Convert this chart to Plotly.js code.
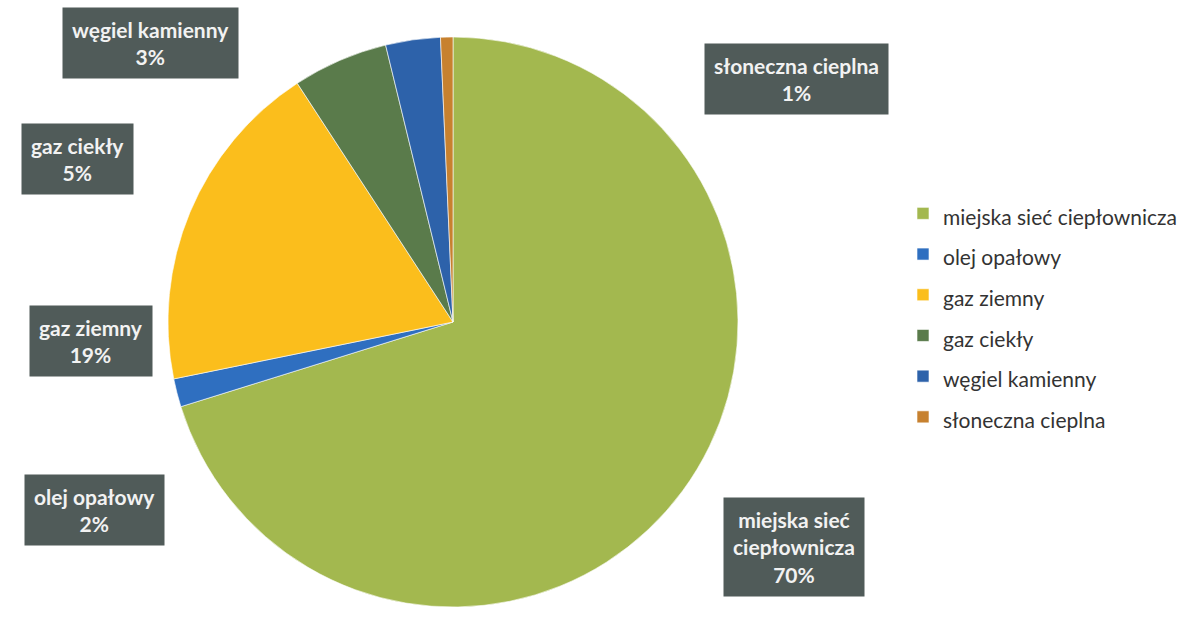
<!DOCTYPE html>
<html>
<head>
<meta charset="utf-8">
<script src="https://cdn.plot.ly/plotly-3.0.1.min.js"></script>
<style>html,body{margin:0;padding:0;background:#fff;}#chart{width:1190px;height:631px;}</style>
</head>
<body>
<div id="chart"></div>
<script>
// Data (shares of heat sources, %)
const categories = ["miejska sieć ciepłownicza", "olej opałowy", "gaz ziemny", "gaz ciekły", "węgiel kamienny", "słoneczna cieplna"];
const values = [70.2, 1.6, 19.0, 5.4, 3.1, 0.7];
const colors = ["#a3b84f", "#2f6fc0", "#fbbe1c", "#5a7b4b", "#2d62aa", "#c7812f"];
// Label box text (category names as shown on the boxes)
const boxLabels = ["miejska sieć<br>ciepłownicza", "olej opałowy", "gaz ziemny", "gaz ciekły", "węgiel kamienny", "słoneczna cieplna"];

const W = 1190, H = 631;
const total = values.reduce((a, b) => a + b, 0);
const pct = values.map(v => Math.round(v / total * 100) + '%');

// box centres (pixel positions of the data-label boxes)
const boxPos = [
  [794, 547], [94, 510], [91, 341], [77, 159], [150, 43], [797, 79]
];

const trace = {
  type: 'pie',
  labels: categories.map(c => '<span style="font-size:21px">' + c + '</span>'),
  values: values,
  sort: false,
  direction: 'clockwise',
  rotation: 0,
  textinfo: 'none',
  hoverinfo: 'label+percent',
  marker: {colors: colors, line: {color: '#ffffff', width: 0.6}},
  domain: {x: [(453 - 285) / W, (453 + 285) / W], y: [(H - 607) / H, (H - 37) / H]}
};

const annotations = categories.map((c, i) => ({
  xref: 'paper', yref: 'paper',
  x: boxPos[i][0] / W, y: 1 - boxPos[i][1] / H,
  xanchor: 'center', yanchor: 'middle',
  text: '<b>' + boxLabels[i] + '<br>' + pct[i] + '</b>',
  showarrow: false,
  font: {family: 'Lato, "Open Sans", sans-serif', size: 21, color: '#f2f2f2'},
  bgcolor: '#505b59',
  borderpad: 9,
  align: 'center'
}));

const layout = {
  width: W, height: H,
  margin: {l: 0, r: 0, t: 0, b: 0},
  paper_bgcolor: '#ffffff',
  showlegend: true,
  legend: {
    x: 903 / W, y: 1 - 188 / H, xanchor: 'left', yanchor: 'top',
    font: {family: 'Lato, "Open Sans", sans-serif', size: 29, color: '#333333'},
    bgcolor: 'rgba(0,0,0,0)',
    itemclick: false
  },
  annotations: annotations
};

Plotly.newPlot('chart', [trace], layout, {displayModeBar: false, staticPlot: true});
</script>
</body>
</html>
